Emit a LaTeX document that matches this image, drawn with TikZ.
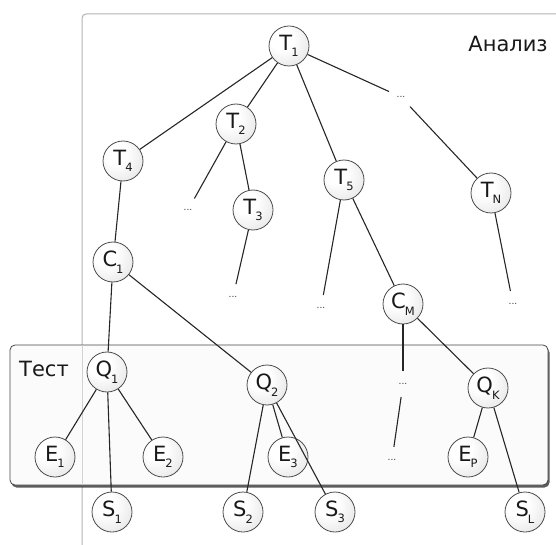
\documentclass[tikz,border=0pt]{standalone}
\usepackage{fontspec}
\setmainfont{DejaVu Sans}
\usetikzlibrary{shadows}
\pgfdeclareradialshading{ballgray}{\pgfpoint{-12bp}{12bp}}{color(0bp)=(white); color(14bp)=(white); color(40bp)=(gray!22); color(68bp)=(gray!55)}
\newcommand{\idx}[1]{\kern-1pt\raisebox{-6.5pt}{\fontsize{11.5}{12}\selectfont #1}}

\begin{document}
\begin{tikzpicture}[x=1pt, y=-1pt,
  every node/.style={font=\fontsize{21}{24}\selectfont, text=black!90},
  state/.style={circle, draw=gray!60!black, line width=0.8pt, shading=ballgray, minimum size=40pt, inner sep=0pt},
  gap/.style={circle, minimum size=26pt, inner sep=0pt, text height=1.5pt, text depth=0pt, text=gray!40!black, font=\fontsize{9}{10}\selectfont},
  edge/.style={draw=black!85, line width=1.1pt}]
  \useasboundingbox (0,0) rectangle (556,545);
  \draw[gray!60, line width=1pt, rounded corners=4pt] (82,545) -- (82,14) -- (556,14);
  \draw[gray!55!black, line width=0.8pt, rounded corners=5pt, fill=white!97!gray,
    drop shadow={shadow xshift=1.5pt, shadow yshift=-2.5pt, fill=black!75, opacity=0.85}]
    (10,345) rectangle (548,485);
  \draw[gray!35, line width=0.8pt] (82,345.4) -- (82,484.6);
  \node (analiz) at (508,44) {Анализ};
  \node (test) at (44,369) {Тест};
  \node[state] (T1) at (289,46) {T\idx{1}};
  \node[state] (T2) at (236,124) {T\idx{2}};
  \node[state] (T4) at (123,161) {T\idx{4}};
  \node[state] (T3) at (253,210) {T\idx{3}};
  \node[state] (T5) at (344,180) {T\idx{5}};
  \node[state] (TN) at (491,193) {T\idx{N}};
  \node[state] (C1) at (113,262) {C\idx{1}};
  \node[state] (CM) at (403,304) {C\idx{M}};
  \node[state] (Q1) at (107,372) {Q\idx{1}};
  \node[state] (Q2) at (267,385) {Q\idx{2}};
  \node[state] (QK) at (488,388) {Q\idx{K}};
  \node[state] (E1) at (55,457) {E\idx{1}};
  \node[state] (E2) at (163,457) {E\idx{2}};
  \node[state] (E3) at (288,457) {E\idx{3}};
  \node[state] (EP) at (468,457) {E\idx{P}};
  \node[state] (S1) at (112,512) {S\idx{1}};
  \node[state] (S2) at (243,512) {S\idx{2}};
  \node[state] (S3) at (335,512) {S\idx{3}};
  \node[state] (SL) at (525,512) {S\idx{L}};
  \node[gap] (d1) at (401,97) {...};
  \node[gap] (d2) at (188,210) {...};
  \node[gap] (d3) at (233,297) {...};
  \node[gap] (d4) at (321,308) {...};
  \node[gap] (d5) at (513,304) {...};
  \node[gap] (d6) at (403,384) {...};
  \node[gap] (d7) at (392,460) {...};
  \draw[edge] (T1) -- (T4);
  \draw[edge] (T1) -- (T2);
  \draw[edge] (T1) -- (T5);
  \draw[edge] (T1) -- (d1);
  \draw[edge] (d1) -- (TN);
  \draw[edge] (T2) -- (d2);
  \draw[edge] (T2) -- (T3);
  \draw[edge] (T3) -- (d3);
  \draw[edge] (T4) -- (C1);
  \draw[edge] (T5) -- (d4);
  \draw[edge] (T5) -- (CM);
  \draw[edge] (TN) -- (d5);
  \draw[edge] (C1) -- (Q1);
  \draw[edge] (C1) -- (Q2);
  \draw[edge] (CM) -- (d6);
  \draw[edge] (CM) -- (QK);
  \draw[edge] (d6) -- (d7);
  \draw[edge] (Q1) -- (E1);
  \draw[edge] (Q1) -- (S1);
  \draw[edge] (Q1) -- (E2);
  \draw[edge] (Q2) -- (S2);
  \draw[edge] (Q2) -- (E3);
  \draw[edge] (Q2) -- (S3);
  \draw[edge] (QK) -- (EP);
  \draw[edge] (QK) -- (SL);
\end{tikzpicture}
\end{document}
